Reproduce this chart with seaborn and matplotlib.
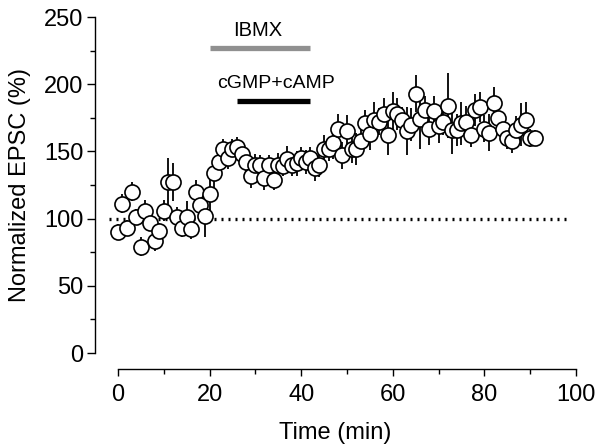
import matplotlib
matplotlib.use("Agg")
import matplotlib.pyplot as plt
import seaborn as sns
import numpy as np
import pandas as pd
from matplotlib.ticker import MultipleLocator

time_min = list(range(0, 92))
epsc = [90, 111, 93, 120, 101, 79, 106, 97, 83, 91,
        106, 127, 127, 101, 93, 101, 92, 120, 110, 102,
        118, 134, 142, 152, 145, 152, 153, 148, 142, 132,
        140, 140, 130, 140, 129, 140, 139, 144, 140, 141,
        145, 142, 145, 138, 140, 152, 152, 156, 167, 147,
        165, 152, 152, 158, 171, 163, 173, 172, 178, 162,
        180, 178, 173, 165, 170, 193, 174, 181, 167, 180,
        169, 172, 184, 166, 166, 171, 172, 162, 181, 183,
        167, 164, 186, 175, 167, 160, 158, 166, 170, 173,
        160, 160]
sem = [6, 7, 6, 7, 6, 7, 8, 6, 7, 6,
       8, 18, 14, 8, 7, 12, 7, 9, 8, 16,
       14, 12, 8, 7, 8, 7, 8, 9, 7, 9,
       8, 7, 9, 7, 8, 9, 7, 10, 8, 9,
       8, 9, 8, 10, 9, 10, 9, 12, 11, 10,
       12, 11, 12, 9, 10, 12, 14, 10, 12, 15,
       14, 12, 10, 18, 12, 14, 22, 10, 12, 11,
       13, 10, 24, 18, 12, 16, 12, 9, 12, 11,
       10, 14, 12, 9, 10, 8, 9, 10, 16, 14,
       7, 6]

ibmx_span = [20, 42]
ibmx_level = 227
cgmp_span = [26, 42]
cgmp_level = 187.5
baseline = 100

df = pd.DataFrame({"t": time_min, "y": epsc, "e": sem})

sns.set_style("ticks")
plt.rcParams["font.family"] = ["Liberation Sans", "DejaVu Sans"]
plt.rcParams.update({"text.color": "black", "axes.labelcolor": "black",
                     "xtick.color": "black", "ytick.color": "black",
                     "axes.edgecolor": "black"})

fig = plt.figure(figsize=(6.05, 4.45), dpi=100)
ax = fig.add_axes([95 / 605, 1 - 353 / 445, (576 - 95) / 605, (353 - 17) / 445])

ax.plot([-2, 98], [baseline, baseline], linestyle=(0, (0.6, 1.5)), color="black",
        lw=2.4, zorder=1, clip_on=False)
ax.errorbar(df["t"], df["y"], yerr=df["e"], fmt="none", ecolor="black",
            elinewidth=1.3, capsize=0, zorder=2)
sns.scatterplot(data=df, x="t", y="y", ax=ax, marker="o", s=118,
                facecolor="white", edgecolor="black", linewidth=1.2,
                zorder=3, clip_on=False, legend=False)

ax.plot(ibmx_span, [ibmx_level, ibmx_level], color="#909090", lw=3.8,
        solid_capstyle="butt", clip_on=False)
ax.plot(cgmp_span, [cgmp_level, cgmp_level], color="black", lw=3.8,
        solid_capstyle="butt", clip_on=False)
ax.text(30.5, 236, "IBMX", ha="center", va="baseline", fontsize=14.5)
ax.text(34.5, 197, "cGMP+cAMP", ha="center", va="baseline", fontsize=14)

ax.set_xlim(-5, 100)
ax.set_ylim(0, 250)
ax.xaxis.set_major_locator(MultipleLocator(20))
ax.xaxis.set_minor_locator(MultipleLocator(10))
ax.yaxis.set_major_locator(MultipleLocator(50))
ax.yaxis.set_minor_locator(MultipleLocator(25))

sns.despine(ax=ax)
ax.spines["bottom"].set_position(("outward", 11.5))
ax.spines["bottom"].set_bounds(0, 100)
ax.spines["left"].set_bounds(0, 250)
for s in ["left", "bottom"]:
    ax.spines[s].set_linewidth(1.0)

ax.tick_params(axis="both", which="major", labelsize=17, width=1.0, color="black")
ax.tick_params(axis="y", which="major", length=5.5, pad=3)
ax.tick_params(axis="y", which="minor", length=3.5, width=1.0)
ax.tick_params(axis="x", which="major", length=5, pad=6)
ax.tick_params(axis="x", which="minor", length=3.5, width=1.0)

ax.set_xlabel("Time (min)", fontsize=17, labelpad=11)
ax.set_ylabel("Normalized EPSC (%)", fontsize=17, labelpad=9)

fig.savefig("out.png", dpi=100)
